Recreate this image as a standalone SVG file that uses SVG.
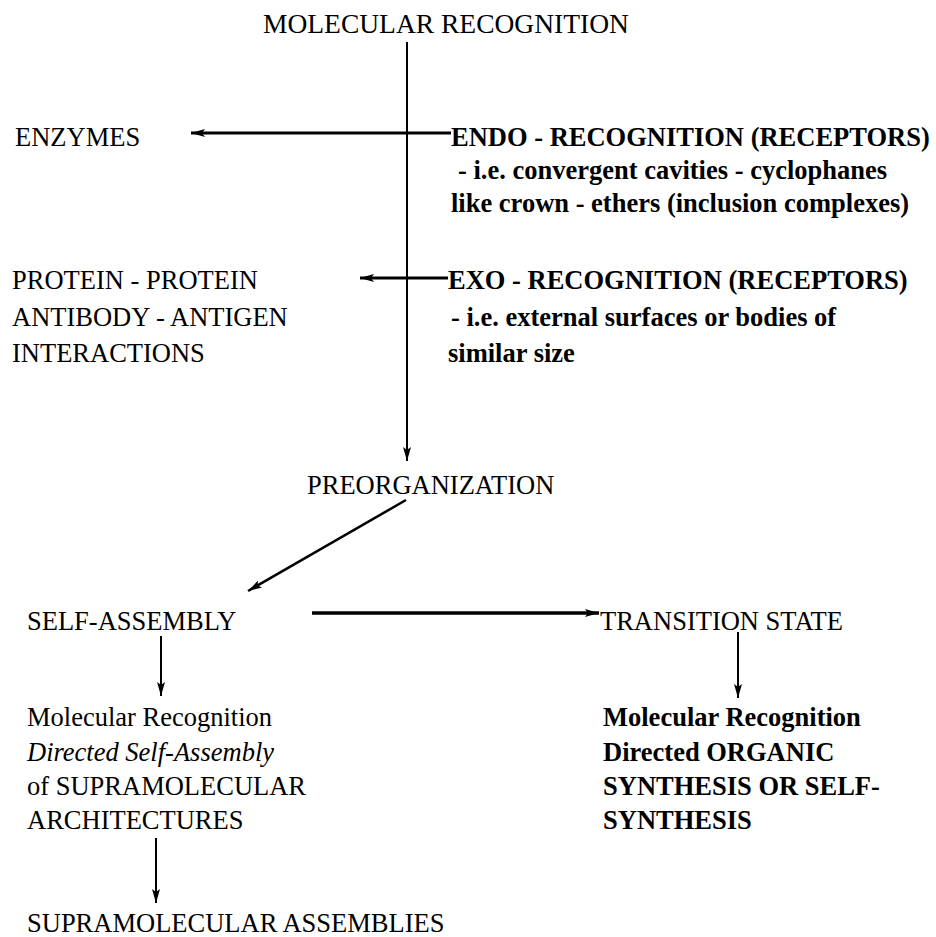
<svg xmlns="http://www.w3.org/2000/svg" width="936" height="937" viewBox="0 0 936 937">
<style>
text{font-family:"Liberation Serif","Times New Roman",serif;font-size:26.5px;fill:#000}
.b{font-weight:bold}
.i{font-style:italic}
.t{font-size:27.5px}
.c{fill:none;stroke:#000;stroke-linecap:butt}
</style>
<defs>
<marker id="ah" markerUnits="userSpaceOnUse" markerWidth="16" markerHeight="10" refX="14" refY="5" orient="auto">
<path d="M0,1 L14,5 L0,9 L3,5 Z" fill="#000"/>
</marker>
</defs>
<rect width="936" height="937" fill="#fff"/>
<g id="connectors">
<line class="c" x1="407" y1="42" x2="407" y2="461" stroke-width="2" marker-end="url(#ah)"/>
<line class="c" x1="451" y1="133" x2="191" y2="133" stroke-width="3" marker-end="url(#ah)"/>
<line class="c" x1="448" y1="278" x2="360" y2="278" stroke-width="3" marker-end="url(#ah)"/>
<line class="c" x1="406" y1="500" x2="248" y2="591" stroke-width="2.5" marker-end="url(#ah)"/>
<line class="c" x1="312" y1="613" x2="599" y2="613" stroke-width="3.5" marker-end="url(#ah)"/>
<line class="c" x1="161" y1="636" x2="161" y2="696" stroke-width="2" marker-end="url(#ah)"/>
<line class="c" x1="738" y1="632" x2="738" y2="698" stroke-width="2" marker-end="url(#ah)"/>
<line class="c" x1="156" y1="838" x2="156" y2="903" stroke-width="2" marker-end="url(#ah)"/>
</g>
<g id="molecular-recognition"><text class="t" x="263" y="33">MOLECULAR RECOGNITION</text></g>
<g id="enzymes"><text x="15" y="146">ENZYMES</text></g>
<g id="endo-recognition">
<text class="b" x="451" y="146">ENDO - RECOGNITION (RECEPTORS)</text>
<text class="b" x="458" y="179">- i.e. convergent cavities - cyclophanes</text>
<text class="b" x="451" y="212">like crown - ethers (inclusion complexes)</text>
</g>
<g id="protein-interactions">
<text x="12" y="289">PROTEIN - PROTEIN</text>
<text x="12" y="326">ANTIBODY - ANTIGEN</text>
<text x="12" y="362">INTERACTIONS</text>
</g>
<g id="exo-recognition">
<text class="b" x="448" y="289">EXO - RECOGNITION (RECEPTORS)</text>
<text class="b" x="451" y="326">- i.e. external surfaces or bodies of</text>
<text class="b" x="448" y="362">similar size</text>
</g>
<g id="preorganization"><text x="307" y="494">PREORGANIZATION</text></g>
<g id="self-assembly"><text x="27" y="630">SELF-ASSEMBLY</text></g>
<g id="transition-state"><text x="600" y="630">TRANSITION STATE</text></g>
<g id="directed-self-assembly">
<text x="27" y="726">Molecular Recognition</text>
<text class="i" x="27" y="761">Directed Self-Assembly</text>
<text x="27" y="795">of SUPRAMOLECULAR</text>
<text x="27" y="829">ARCHITECTURES</text>
</g>
<g id="directed-synthesis">
<text class="b" x="603" y="726">Molecular Recognition</text>
<text class="b" x="603" y="761">Directed ORGANIC</text>
<text class="b" x="603" y="795">SYNTHESIS OR SELF-</text>
<text class="b" x="603" y="829">SYNTHESIS</text>
</g>
<g id="supramolecular-assemblies"><text x="27" y="932">SUPRAMOLECULAR ASSEMBLIES</text></g>
</svg>
